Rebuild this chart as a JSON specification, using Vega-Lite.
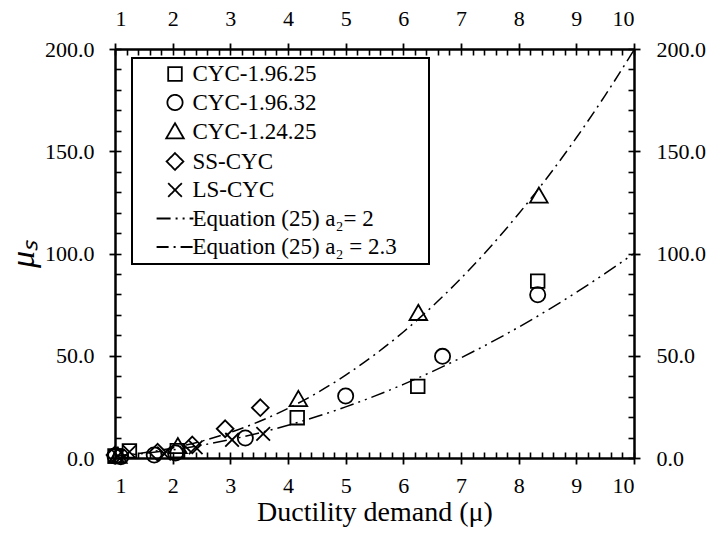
{
  "$schema": "https://vega.github.io/schema/vega-lite/v6.json",
  "width": 519,
  "height": 409,
  "autosize": {"type": "none"},
  "padding": {"left": 115, "top": 49, "right": 83, "bottom": 75},
  "config": {
    "font": "Liberation Serif",
    "view": {"stroke": null},
    "axis": {
      "grid": false,
      "domainColor": "black",
      "domainWidth": 2.5,
      "tickColor": "black",
      "tickWidth": 1.8,
      "labelColor": "black",
      "labelFont": "Liberation Serif",
      "labelFontSize": 22,
      "titleFont": "Liberation Serif",
      "titleColor": "black",
      "titleFontWeight": "normal"
    },
    "legend": {"strokeWidth": 2}
  },
  "datasets": {
    "points": [
      {"series": "CYC-1.96.25", "mu": 1.0, "val": 1.0},
      {"series": "CYC-1.96.25", "mu": 1.25, "val": 3.5},
      {"series": "CYC-1.96.25", "mu": 2.08, "val": 3.6},
      {"series": "CYC-1.96.25", "mu": 4.16, "val": 19.7},
      {"series": "CYC-1.96.25", "mu": 6.25, "val": 35.0},
      {"series": "CYC-1.96.25", "mu": 8.33, "val": 86.5},
      {"series": "CYC-1.96.32", "mu": 1.0, "val": 1.0},
      {"series": "CYC-1.96.32", "mu": 1.1, "val": 0.6},
      {"series": "CYC-1.96.32", "mu": 1.68, "val": 1.5},
      {"series": "CYC-1.96.32", "mu": 2.05, "val": 2.5},
      {"series": "CYC-1.96.32", "mu": 3.26, "val": 9.8},
      {"series": "CYC-1.96.32", "mu": 5.0, "val": 30.3},
      {"series": "CYC-1.96.32", "mu": 6.68, "val": 49.7},
      {"series": "CYC-1.96.32", "mu": 8.33, "val": 79.8},
      {"series": "CYC-1.24.25", "mu": 1.05, "val": 0.8},
      {"series": "CYC-1.24.25", "mu": 2.09, "val": 5.5},
      {"series": "CYC-1.24.25", "mu": 4.18, "val": 28.5},
      {"series": "CYC-1.24.25", "mu": 6.26, "val": 70.6},
      {"series": "CYC-1.24.25", "mu": 8.35, "val": 128.0},
      {"series": "SS-CYC", "mu": 1.0, "val": 1.5},
      {"series": "SS-CYC", "mu": 1.74, "val": 2.8},
      {"series": "SS-CYC", "mu": 2.34, "val": 6.4},
      {"series": "SS-CYC", "mu": 2.91, "val": 14.3},
      {"series": "SS-CYC", "mu": 3.52, "val": 24.6},
      {"series": "LS-CYC", "mu": 1.05, "val": 1.0},
      {"series": "LS-CYC", "mu": 1.25, "val": 3.0},
      {"series": "LS-CYC", "mu": 1.85, "val": 2.2},
      {"series": "LS-CYC", "mu": 2.4, "val": 5.2},
      {"series": "LS-CYC", "mu": 3.03, "val": 8.9},
      {"series": "LS-CYC", "mu": 3.57, "val": 11.8}
    ],
    "curves": [
      {"series": "Equation (25) a₂= 2", "mu": 1.0, "val": 1.0},
      {"series": "Equation (25) a₂= 2", "mu": 1.5, "val": 2.25},
      {"series": "Equation (25) a₂= 2", "mu": 2.0, "val": 4.0},
      {"series": "Equation (25) a₂= 2", "mu": 2.5, "val": 6.25},
      {"series": "Equation (25) a₂= 2", "mu": 3.0, "val": 9.0},
      {"series": "Equation (25) a₂= 2", "mu": 3.5, "val": 12.25},
      {"series": "Equation (25) a₂= 2", "mu": 4.0, "val": 16.0},
      {"series": "Equation (25) a₂= 2", "mu": 4.5, "val": 20.25},
      {"series": "Equation (25) a₂= 2", "mu": 5.0, "val": 25.0},
      {"series": "Equation (25) a₂= 2", "mu": 5.5, "val": 30.25},
      {"series": "Equation (25) a₂= 2", "mu": 6.0, "val": 36.0},
      {"series": "Equation (25) a₂= 2", "mu": 6.5, "val": 42.25},
      {"series": "Equation (25) a₂= 2", "mu": 7.0, "val": 49.0},
      {"series": "Equation (25) a₂= 2", "mu": 7.5, "val": 56.25},
      {"series": "Equation (25) a₂= 2", "mu": 8.0, "val": 64.0},
      {"series": "Equation (25) a₂= 2", "mu": 8.5, "val": 72.25},
      {"series": "Equation (25) a₂= 2", "mu": 9.0, "val": 81.0},
      {"series": "Equation (25) a₂= 2", "mu": 9.5, "val": 90.25},
      {"series": "Equation (25) a₂= 2", "mu": 10.0, "val": 100.0},
      {"series": "Equation (25) a₂ = 2.3", "mu": 1.0, "val": 1.0},
      {"series": "Equation (25) a₂ = 2.3", "mu": 1.5, "val": 2.54},
      {"series": "Equation (25) a₂ = 2.3", "mu": 2.0, "val": 4.92},
      {"series": "Equation (25) a₂ = 2.3", "mu": 2.5, "val": 8.23},
      {"series": "Equation (25) a₂ = 2.3", "mu": 3.0, "val": 12.51},
      {"series": "Equation (25) a₂ = 2.3", "mu": 3.5, "val": 17.84},
      {"series": "Equation (25) a₂ = 2.3", "mu": 4.0, "val": 24.25},
      {"series": "Equation (25) a₂ = 2.3", "mu": 4.5, "val": 31.8},
      {"series": "Equation (25) a₂ = 2.3", "mu": 5.0, "val": 40.52},
      {"series": "Equation (25) a₂ = 2.3", "mu": 5.5, "val": 50.45},
      {"series": "Equation (25) a₂ = 2.3", "mu": 6.0, "val": 61.62},
      {"series": "Equation (25) a₂ = 2.3", "mu": 6.5, "val": 74.08},
      {"series": "Equation (25) a₂ = 2.3", "mu": 7.0, "val": 87.85},
      {"series": "Equation (25) a₂ = 2.3", "mu": 7.5, "val": 102.95},
      {"series": "Equation (25) a₂ = 2.3", "mu": 8.0, "val": 119.43},
      {"series": "Equation (25) a₂ = 2.3", "mu": 8.5, "val": 137.3},
      {"series": "Equation (25) a₂ = 2.3", "mu": 9.0, "val": 156.59},
      {"series": "Equation (25) a₂ = 2.3", "mu": 9.5, "val": 177.33},
      {"series": "Equation (25) a₂ = 2.3", "mu": 10.0, "val": 199.53}
    ]
  },
  "resolve": {"axis": {"x": "independent", "y": "independent"}},
  "layer": [
    {
      "data": {"name": "curves"},
      "transform": [{"filter": "datum.series === 'Equation (25) a₂= 2'"}],
      "mark": {"type": "line", "interpolate": "monotone", "color": "black", "strokeWidth": 1.5},
      "encoding": {
        "x": {
          "field": "mu", "type": "quantitative",
          "scale": {"domain": [1, 10], "nice": false, "zero": false},
          "axis": {
            "orient": "bottom", "values": [1, 2, 3, 4, 5, 6, 7, 8, 9, 10], "format": "d",
            "tickSize": 6, "labelPadding": 11,
            "labelFont": "Liberation Serif", "labelFontSize": 22,
            "title": "Ductility demand (μ)", "titleFont": "Liberation Serif", "titleFontSize": 28, "titlePadding": 2
          }
        },
        "y": {
          "field": "val", "type": "quantitative",
          "scale": {"domain": [0, 200], "nice": false, "zero": true},
          "axis": {
            "orient": "left", "values": [0, 50, 100, 150, 200], "format": ".1f",
            "tickSize": 6, "labelPadding": 15,
            "labelFont": "Liberation Serif", "labelFontSize": 22,
            "title": "μₛ", "titleFont": "Liberation Serif", "titleFontSize": 34, "titleFontStyle": "italic", "titlePadding": 4
          }
        },
        "strokeDash": {
          "field": "series", "type": "nominal",
          "scale": {
            "domain": ["CYC-1.96.25", "CYC-1.96.32", "CYC-1.24.25", "SS-CYC", "LS-CYC", "Equation (25) a₂= 2", "Equation (25) a₂ = 2.3"],
            "range": [[1, 0], [1, 0], [1, 0], [1, 0], [1, 0], [14, 5, 2, 5, 2, 5], [12, 5, 2, 5]]
          },
          "legend": {
            "orient": "none", "legendX": 17, "legendY": 9,
            "title": "\u00a0", "titleOrient": "right", "titleFontSize": 1, "titlePadding": 28,
            "padding": 4.5, "rowPadding": 4.5,
            "strokeColor": "black", "fillColor": "white",
            "labelFont": "Liberation Serif", "labelFontSize": 23, "labelColor": "black", "labelLimit": 600,
            "symbolSize": 256, "symbolStrokeWidth": 1.8, "symbolStrokeColor": "black",
            "symbolFillColor": "transparent", "symbolOffset": 27, "labelOffset": 6
          }
        }
      }
    },
    {
      "data": {"name": "curves"},
      "transform": [{"filter": "datum.series === 'Equation (25) a₂ = 2.3'"}],
      "mark": {"type": "line", "interpolate": "monotone", "color": "black", "strokeWidth": 1.5},
      "encoding": {
        "x": {
          "field": "mu", "type": "quantitative",
          "scale": {"domain": [1, 10], "nice": false, "zero": false},
          "axis": {
            "orient": "top", "values": [1, 2, 3, 4, 5, 6, 7, 8, 9, 10], "format": "d",
            "tickSize": 6, "labelPadding": 13,
            "labelFont": "Liberation Serif", "labelFontSize": 22, "title": null
          }
        },
        "y": {
          "field": "val", "type": "quantitative",
          "scale": {"domain": [0, 200], "nice": false, "zero": true},
          "axis": {
            "orient": "right", "values": [0, 50, 100, 150, 200], "format": ".1f",
            "tickSize": 6, "labelPadding": 16,
            "labelFont": "Liberation Serif", "labelFontSize": 22, "title": null
          }
        },
        "strokeDash": {"field": "series", "type": "nominal"}
      }
    },
    {
      "data": {"name": "points"},
      "transform": [{"filter": "datum.series === 'CYC-1.96.25' || datum.series === 'CYC-1.96.32' || datum.series === 'CYC-1.24.25'"}],
      "mark": {"type": "point", "filled": false, "color": "black", "strokeWidth": 1.8, "size": 256, "opacity": 1},
      "encoding": {
        "x": {
          "field": "mu", "type": "quantitative",
          "scale": {"domain": [1, 10], "nice": false, "zero": false},
          "axis": {
            "orient": "bottom", "values": [1, 1.2, 1.4, 1.6, 1.8, 2, 2.2, 2.4, 2.6, 2.8, 3, 3.2, 3.4, 3.6, 3.8, 4, 4.2, 4.4, 4.6, 4.8, 5, 5.2, 5.4, 5.6, 5.8, 6, 6.2, 6.4, 6.6, 6.8, 7, 7.2, 7.4, 7.6, 7.8, 8, 8.2, 8.4, 8.6, 8.8, 9, 9.2, 9.4, 9.6, 9.8, 10],
            "tickSize": -6, "tickWidth": 1.6, "labels": false, "domain": false, "title": null
          }
        },
        "y": {
          "field": "val", "type": "quantitative",
          "scale": {"domain": [0, 200], "nice": false, "zero": true},
          "axis": {
            "orient": "left", "values": [0, 10, 20, 30, 40, 50, 60, 70, 80, 90, 100, 110, 120, 130, 140, 150, 160, 170, 180, 190, 200],
            "tickSize": -6, "tickWidth": 1.6, "labels": false, "domain": false, "title": null
          }
        },
        "shape": {
          "field": "series", "type": "nominal",
          "scale": {
            "domain": ["CYC-1.96.25", "CYC-1.96.32", "CYC-1.24.25", "SS-CYC", "LS-CYC", "Equation (25) a₂= 2", "Equation (25) a₂ = 2.3"],
            "range": [
              "M-0.85,-0.85H0.85V0.85H-0.85Z",
              "M-0.95,0A0.95,0.95 0 1,1 0.95,0A0.95,0.95 0 1,1 -0.95,0Z",
              "M0,-1.1L1.1,0.8H-1.1Z",
              "M0,-1.05L1.05,0L0,1.05L-1.05,0Z",
              "M-0.85,-0.85L0.85,0.85M-0.85,0.85L0.85,-0.85",
              "M-2.3,0H2.3",
              "M-2.3,0H2.3"
            ]
          },
          "legend": {
            "orient": "none", "legendX": 17, "legendY": 9,
            "title": "\u00a0", "titleOrient": "right", "titleFontSize": 1, "titlePadding": 28,
            "padding": 4.5, "rowPadding": 4.5,
            "strokeColor": "black", "fillColor": "white",
            "labelFont": "Liberation Serif", "labelFontSize": 23, "labelColor": "black", "labelLimit": 600,
            "symbolSize": 256, "symbolStrokeWidth": 1.8, "symbolStrokeColor": "black",
            "symbolFillColor": "transparent", "symbolOffset": 27, "labelOffset": 6
          }
        }
      }
    },
    {
      "data": {"name": "points"},
      "transform": [{"filter": "datum.series === 'SS-CYC' || datum.series === 'LS-CYC'"}],
      "mark": {"type": "point", "filled": false, "color": "black", "strokeWidth": 1.8, "size": 256, "opacity": 1},
      "encoding": {
        "x": {
          "field": "mu", "type": "quantitative",
          "scale": {"domain": [1, 10], "nice": false, "zero": false},
          "axis": {
            "orient": "top", "values": [1, 1.2, 1.4, 1.6, 1.8, 2, 2.2, 2.4, 2.6, 2.8, 3, 3.2, 3.4, 3.6, 3.8, 4, 4.2, 4.4, 4.6, 4.8, 5, 5.2, 5.4, 5.6, 5.8, 6, 6.2, 6.4, 6.6, 6.8, 7, 7.2, 7.4, 7.6, 7.8, 8, 8.2, 8.4, 8.6, 8.8, 9, 9.2, 9.4, 9.6, 9.8, 10],
            "tickSize": -6, "tickWidth": 1.6, "labels": false, "domain": false, "title": null
          }
        },
        "y": {
          "field": "val", "type": "quantitative",
          "scale": {"domain": [0, 200], "nice": false, "zero": true},
          "axis": {
            "orient": "right", "values": [0, 10, 20, 30, 40, 50, 60, 70, 80, 90, 100, 110, 120, 130, 140, 150, 160, 170, 180, 190, 200],
            "tickSize": -6, "tickWidth": 1.6, "labels": false, "domain": false, "title": null
          }
        },
        "shape": {"field": "series", "type": "nominal"}
      }
    }
  ]
}
